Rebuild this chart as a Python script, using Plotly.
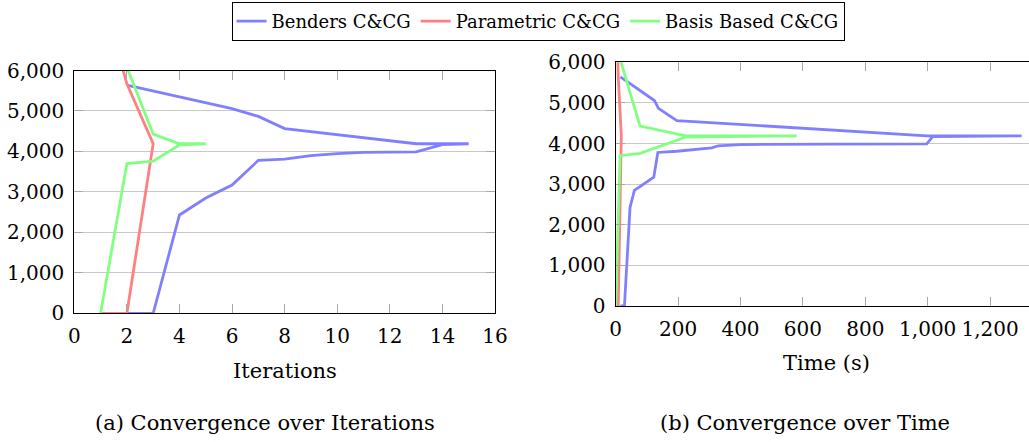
import plotly.graph_objects as go

# ---- Benders C&CG ----
benders_ub_iter = [2, 6, 7, 8, 13, 15]
benders_ub_time = [15, 124, 137, 196, 997, 1301]
benders_ub = [5640, 5060, 4865, 4565, 4190, 4190]
benders_lb_iter = [2, 3, 4, 5, 6, 7, 8, 9, 10, 11, 12, 13, 14, 15]
benders_lb_time = [15, 28, 46, 60, 122, 135, 196, 308, 329, 400, 700, 997, 1016, 1301]
benders_lb = [0, 0, 2430, 2850, 3170, 3780, 3810, 3895, 3945, 3975, 3985, 3990, 4170, 4190]

# ---- Parametric C&CG ----
param_ub_iter = [1, 2, 3]
param_ub_time = [1, 8, 18]
param_ub = [8000, 5670, 4190]
param_lb_iter = [1, 2, 3]
param_lb_time = [1, 8, 18]
param_lb = [0, 0, 4190]

# ---- Basis Based C&CG ----
basis_ub_iter = [2, 3, 4, 5]
basis_ub_time = [14, 78, 225, 580]
basis_ub = [6080, 4430, 4190, 4190]
basis_lb_iter = [1, 2, 3, 4, 5]
basis_lb_time = [0, 14, 78, 225, 580]
basis_lb = [0, 3700, 3760, 4160, 4190]

x_ticks_iter = list(range(0, 17, 2))
x_ticks_time = list(range(0, 1201, 200))
y_ticks = list(range(0, 6001, 1000))

SERIF = "DejaVu Serif"
W, H = 1029, 442


def loop(ub_x, ub_y, lb_x, lb_y):
    """Upper bound forward, then lower bound backward, as one path."""
    return list(ub_x) + list(lb_x[::-1]), list(ub_y) + list(lb_y[::-1])


methods = [
    ("Benders C&CG", "#8080ff",
     benders_ub_iter, benders_ub_time, benders_ub,
     benders_lb_iter, benders_lb_time, benders_lb),
    ("Parametric C&CG", "#ff8080",
     param_ub_iter, param_ub_time, param_ub,
     param_lb_iter, param_lb_time, param_lb),
    ("Basis Based C&CG", "#80ff80",
     basis_ub_iter, basis_ub_time, basis_ub,
     basis_lb_iter, basis_lb_time, basis_lb),
]

fig = go.Figure()
for name, color, ui, ut, uv, li, lt, lv in methods:
    xi, yi = loop(ui, uv, li, lv)
    xt, yt = loop(ut, uv, lt, lv)
    fig.add_trace(go.Scatter(x=xi, y=yi, mode="lines", name=name,
                             legendgroup=name,
                             line=dict(color=color, width=2.8),
                             xaxis="x", yaxis="y"))
    fig.add_trace(go.Scatter(x=xt, y=yt, mode="lines", name=name,
                             legendgroup=name, showlegend=False,
                             line=dict(color=color, width=2.8),
                             xaxis="x2", yaxis="y2"))

tick_font = dict(family=SERIF, size=20, color="black")
common = dict(showline=True, linecolor="black", linewidth=1.2,
              ticks="inside", ticklen=9, tickwidth=1.3, tickcolor="#a8a8a8",
              zeroline=False, tickfont=tick_font, tickformat=",d",
              ticklabelstandoff=5, automargin=False)

fig.update_layout(
    width=W, height=H,
    margin=dict(l=0, r=0, t=0, b=0, autoexpand=False),
    paper_bgcolor="white", plot_bgcolor="white",
    font=dict(family=SERIF, color="black"),
    xaxis=dict(domain=[74.3 / W, 495 / W], range=[0, 16],
               tickvals=x_ticks_iter, showgrid=False, mirror="ticks",
               anchor="y", **common),
    yaxis=dict(domain=[1 - 313.3 / H, 1 - 70.5 / H], range=[0, 6000],
               tickvals=y_ticks, showgrid=True, gridcolor="#c8c8c8",
               gridwidth=1.2, mirror="ticks", anchor="x", **common),
    xaxis2=dict(domain=[615.7 / W, 1.0], range=[0, 413.3 / 0.312],
                tickvals=x_ticks_time, showgrid=False, mirror="ticks",
                anchor="y2", **common),
    yaxis2=dict(domain=[1 - 306 / H, 1 - 62.3 / H], range=[0, 6000],
                tickvals=y_ticks, showgrid=True, gridcolor="#c8c8c8",
                gridwidth=1.2, mirror=False, anchor="x2", **common),
    legend=dict(orientation="h", xref="container", yref="container",
                x=538 / W, xanchor="center",
                y=1 - 2 / H, yanchor="top",
                bordercolor="black", borderwidth=1,
                tracegroupgap=14,
                font=dict(family=SERIF, size=18, color="black"),
                bgcolor="white"),
    showlegend=True,
)

label_font = dict(family=SERIF, size=21, color="black")
texts = [
    ("Iterations", 284.6, 370.5),
    ("Time (s)", 826, 363),
    ("(a) Convergence over Iterations", 265, 423),
    ("(b) Convergence over Time", 805, 423),
]
for txt, px, py in texts:
    fig.add_annotation(text=txt, x=px / W, y=1 - py / H, xref="paper",
                       yref="paper", xanchor="center", yanchor="middle",
                       showarrow=False, font=label_font)

fig.write_html("out.html")
